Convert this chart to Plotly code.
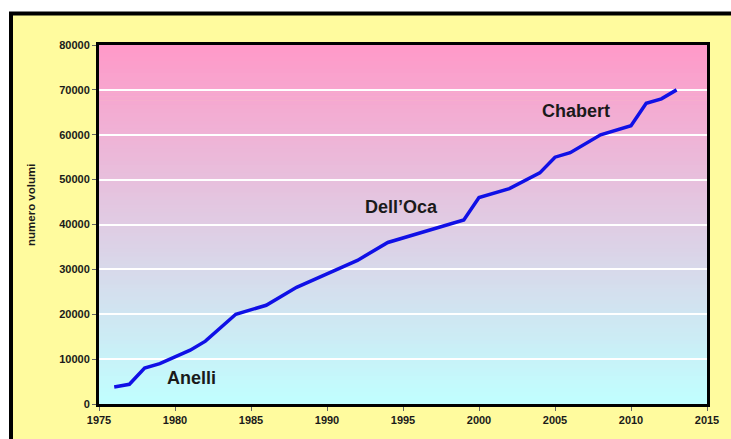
import plotly.graph_objects as go

years = [1976, 1977, 1978, 1979, 1980, 1981, 1982, 1984, 1986, 1988, 1990, 1992,
         1994, 1996, 1999, 2000, 2002, 2004, 2005, 2006, 2008, 2010, 2011, 2012, 2013]
volumi = [3800, 4400, 8000, 9000, 10500, 12000, 14000, 20000, 22000, 26000, 29000, 32000,
          36000, 38000, 41000, 46000, 48000, 51500, 55000, 56000, 60000, 62000, 67000, 68000, 70000]

labels = ["Anelli", "Dell\u2019Oca", "Chabert"]
label_x = [1981.1, 1994.9, 2006.4]
label_y = [5800, 44000, 65200]

x_ticks = [1975, 1980, 1985, 1990, 1995, 2000, 2005, 2010, 2015]
y_ticks = [0, 10000, 20000, 30000, 40000, 50000, 60000, 70000, 80000]
y_ticktext = ["0", "10000", "20000", "30000", "40000", "50000", "60000", "70000", "80000"]

W, H = 731, 439
ML, MR, MT, MB = 99, 24, 45, 35
pw, ph = W - ML - MR, H - MT - MB

fig = go.Figure()
fig.add_trace(go.Scatter(x=years, y=volumi, mode="lines",
                         line=dict(color="#1010E6", width=3.5),
                         hoverinfo="x+y", showlegend=False))

shapes = []
def px2x(p):
    return (p - ML) / pw
def py2y(p):
    return (H - MB - p) / ph
# outer yellow frame with black border
shapes.append(dict(type="rect", xref="paper", yref="paper",
                   x0=px2x(11), x1=px2x(745), y0=py2y(13.5), y1=py2y(460),
                   fillcolor="#FFFB9E", line=dict(color="black", width=4), layer="below"))
# vertical gradient pink -> cyan in plot area
top = (255, 153, 200)
bot = (192, 255, 255)
n = 90
for i in range(n):
    t = (i + 0.5) / n
    c = tuple(round(bot[k] + (top[k] - bot[k]) * t) for k in range(3))
    shapes.append(dict(type="rect", xref="x domain", yref="y domain",
                       x0=0, x1=1, y0=i / n, y1=(i + 1) / n + 0.002,
                       fillcolor="rgb(%d,%d,%d)" % c, line=dict(width=0), layer="below"))

annotations = []
for t, x, y in zip(labels, label_x, label_y):
    annotations.append(dict(x=x, y=y, xref="x", yref="y", text=t, showarrow=False,
                            font=dict(family="Liberation Sans, Arial", size=18,
                                      color="#1a1a1a", weight="bold")))
annotations.append(dict(x=px2x(23), y=py2y(205), xref="paper", yref="paper",
                        text="numero volumi", textangle=-90, showarrow=False,
                        font=dict(family="Liberation Sans, Arial", size=11.5,
                                  color="#1a1a1a", weight="bold")))

tickfont = dict(family="Liberation Sans, Arial", size=11, color="#1a1a1a", weight="bold")
fig.update_layout(
    width=W, height=H,
    margin=dict(l=ML, r=MR, t=MT, b=MB),
    paper_bgcolor="white",
    plot_bgcolor="rgba(0,0,0,0)",
    shapes=shapes,
    annotations=annotations,
    xaxis=dict(range=[1975, 2015], tickvals=x_ticks, showgrid=False, zeroline=False,
               showline=True, mirror=True, linecolor="black", linewidth=3,
               ticks="outside", ticklen=4, tickcolor="#666", tickwidth=1,
               tickfont=tickfont),
    yaxis=dict(range=[0, 80000], tickvals=y_ticks, ticktext=y_ticktext,
               showgrid=True, gridcolor="white", gridwidth=2, zeroline=False,
               showline=True, mirror=True, linecolor="black", linewidth=3,
               ticks="outside", ticklen=4, tickcolor="#666", tickwidth=1,
               tickfont=tickfont),
)

fig.write_html("out.html")
